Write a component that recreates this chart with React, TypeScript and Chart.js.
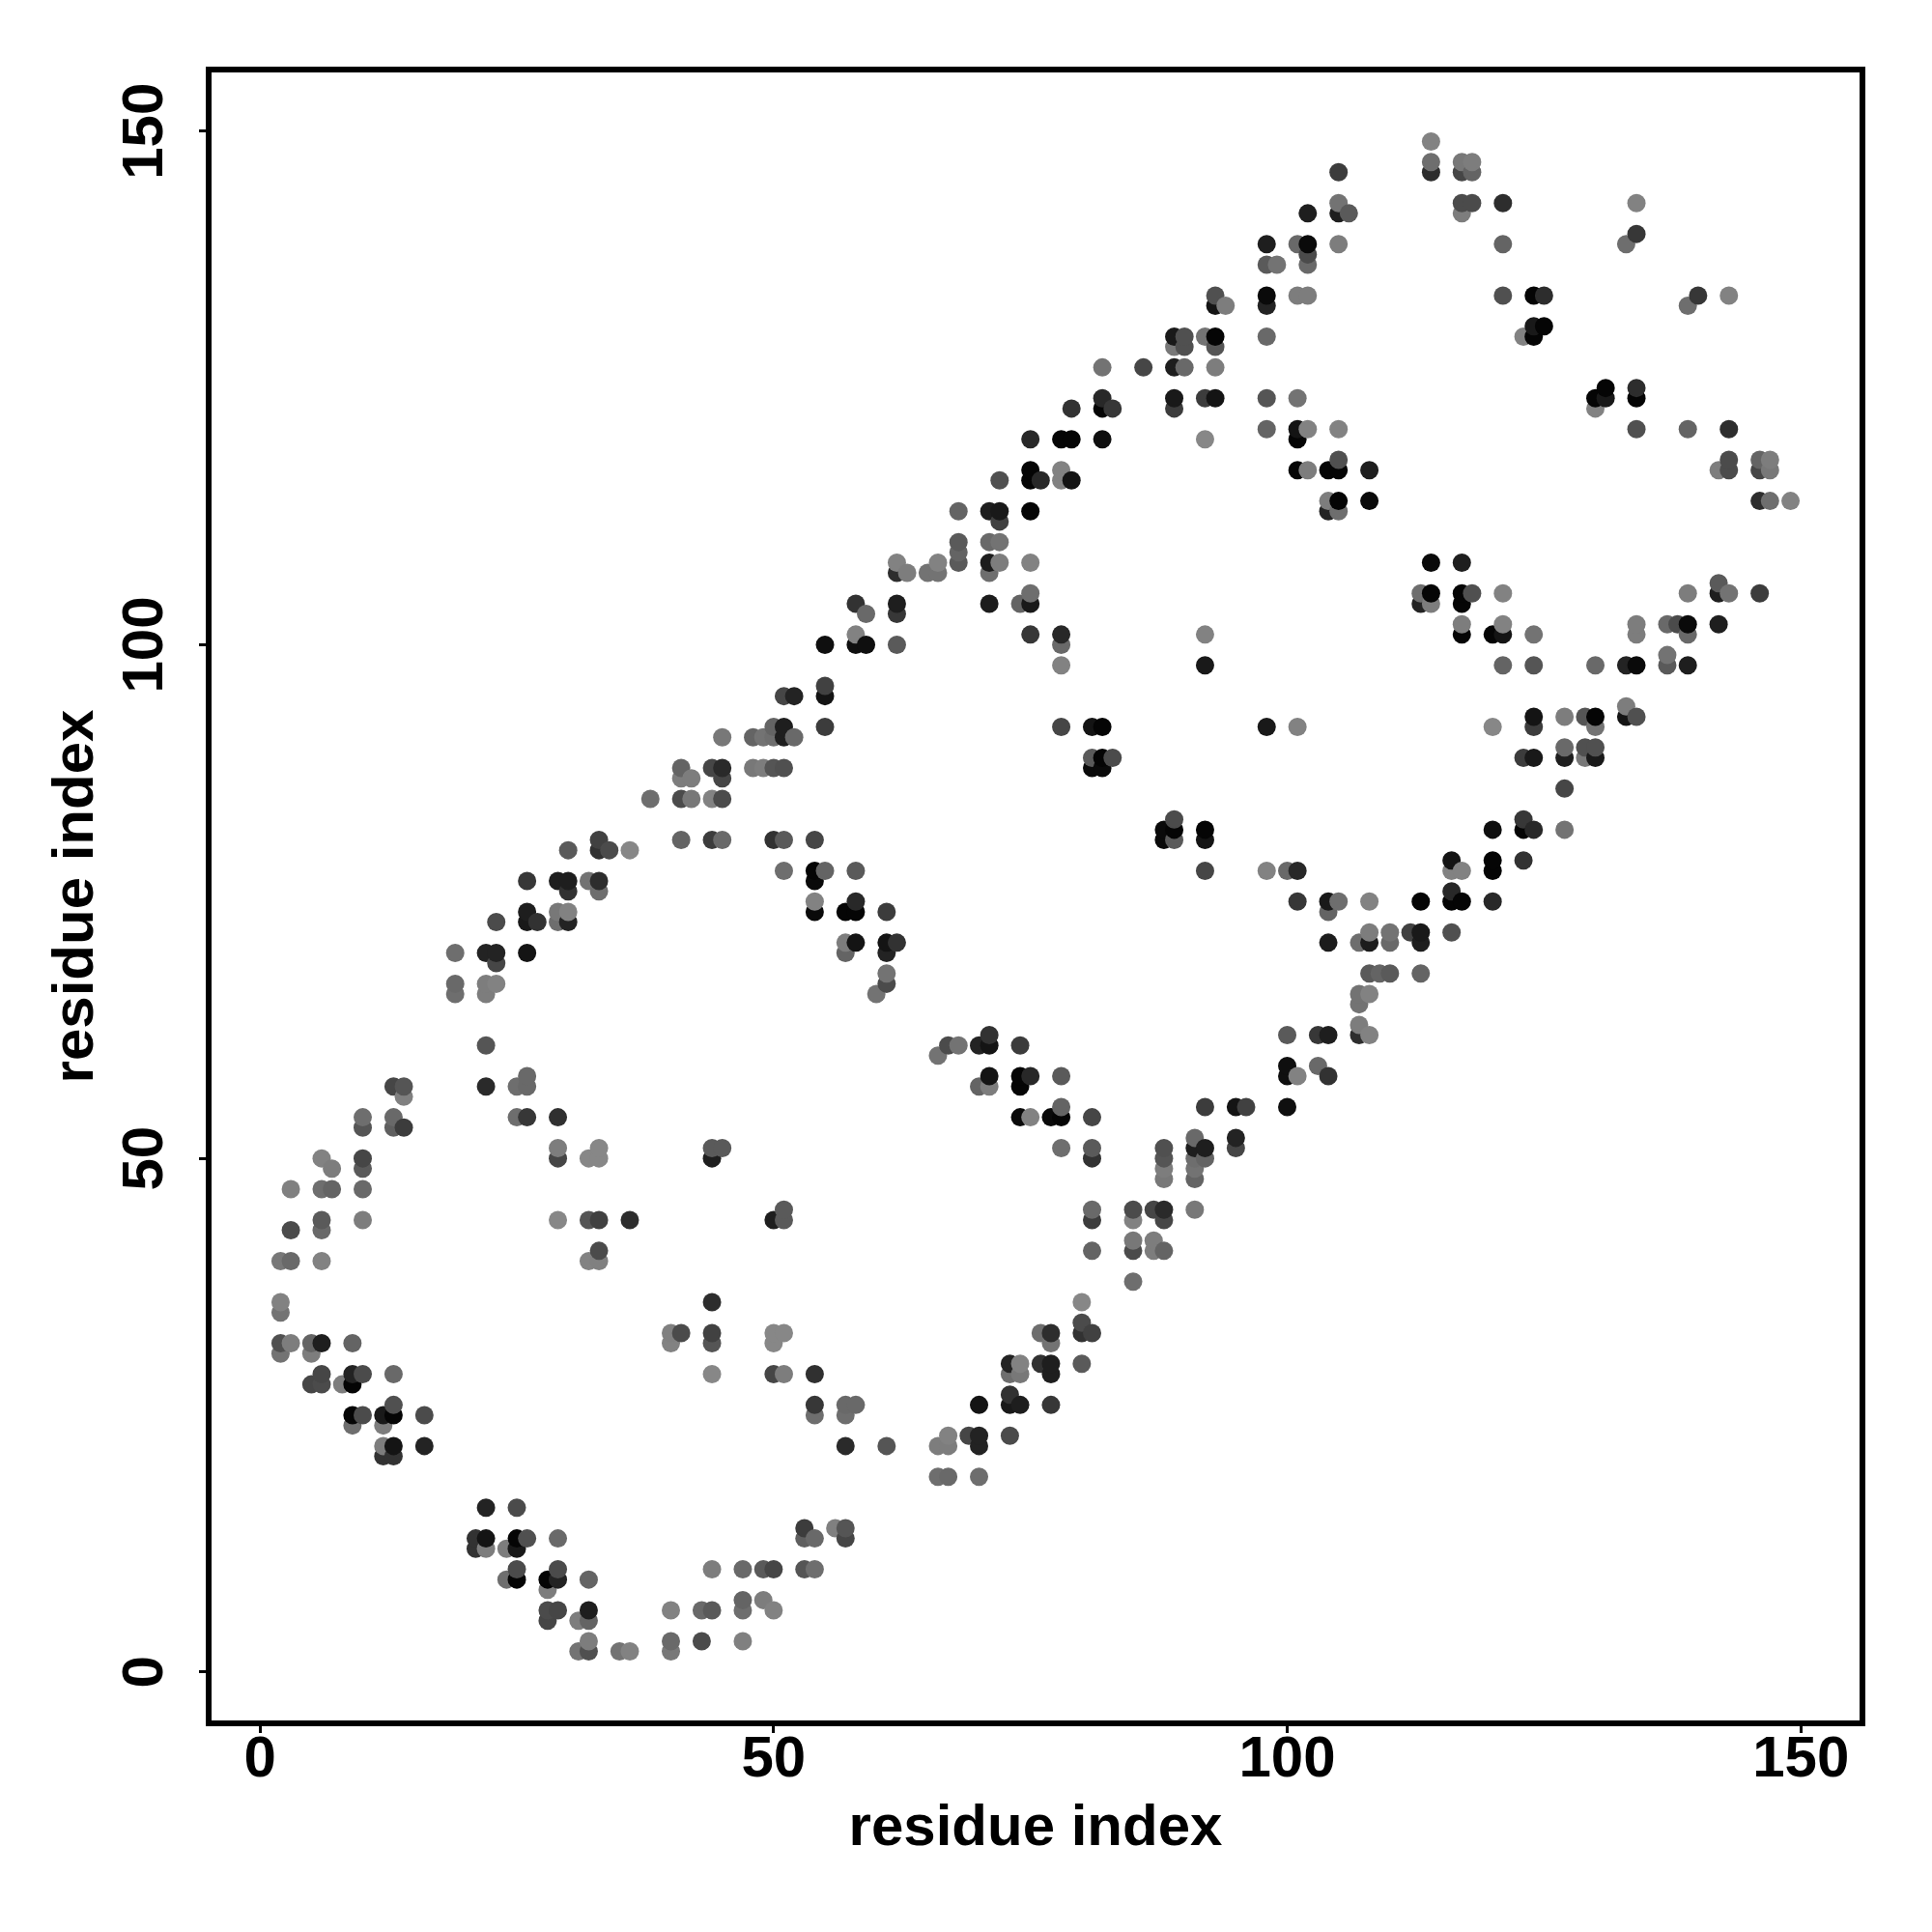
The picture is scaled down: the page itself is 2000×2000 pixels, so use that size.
import React, { useEffect, useRef } from "react";
import { Chart, registerables } from "chart.js";

Chart.register(...registerables);

const tickValues = [0, 50, 100, 150];
const axisLabel = "residue index";

// Contacts above the diagonal; the map is symmetric, the other half is its mirror image.
const residueI = [
  22, 13, 14, 14, 22, 25, 26, 26, 10, 10, 13, 13, 14, 25, 26, 29, 6, 7, 10, 10, 29, 29, 32, 33, 33,
  3, 6, 7, 10, 6, 6, 3, 10, 29, 32, 33, 36, 2, 3, 6, 32, 33, 33, 2, 2, 2, 3, 5, 6, 9, 2, 5,
  6, 5, 6, 8, 9, 9, 10, 13, 9, 10, 12, 13, 13, 16, 9, 12, 12, 13, 12, 13, 16,
  41, 41, 42, 44, 45, 45, 48, 49, 50, 51, 38, 41, 42, 44, 45, 41, 44, 45, 50, 51, 54,
  30, 33, 33, 34, 36, 51, 54, 54, 54, 54, 26, 29, 30, 30, 32, 33, 33,
  26, 26, 27, 29, 30, 29, 30, 23, 19, 22, 23, 23, 26, 19, 19, 22, 23, 22,
  58, 59, 62, 62, 71, 58, 58, 59, 55, 62, 55, 55, 51, 52, 55,
  45, 48, 49, 50, 51, 52, 50, 51, 62, 62, 63, 65, 66, 66, 68, 71, 72, 71,
  55, 58, 58, 57, 58, 61, 57, 58, 61, 62, 57, 61, 61, 61, 60,
  93, 93, 94, 98, 98, 101, 102, 89, 90, 89, 90, 92, 93, 93, 98,
  82, 86, 89, 90, 93, 82, 82, 83, 79, 89, 89, 92, 93, 98, 101,
  75, 78, 79, 82, 92, 98, 101, 102, 105, 101,
  75, 75, 76, 78, 78, 79, 72, 101, 102, 104, 105, 105, 104, 105, 104, 105,
  71, 72, 72, 75, 71, 72, 75, 74, 75, 75, 75, 78, 78, 78, 92, 92,
  78, 81, 82, 81, 82, 83, 81, 82, 44, 44, 45,
  114, 114, 114, 117, 118, 117, 118, 105, 105, 105, 106, 102, 117, 118, 117, 121,
  98, 101, 102, 102, 102, 98, 99, 105, 121, 121, 124, 125, 123, 124, 125, 124,
  134, 134, 133, 108, 108, 68, 68, 68,
];
const residueJ = [
  61, 57, 57, 56, 57, 57, 57, 58, 54, 53, 54, 53, 53, 54, 54, 54, 50, 49, 50, 49, 51, 50, 50, 51, 50,
  47, 47, 47, 47, 44, 43, 43, 44, 44, 44, 44, 44, 40, 40, 40, 40, 40, 41, 36, 35, 32, 32, 32, 32, 32, 31, 31,
  29, 28, 28, 28, 28, 29, 29, 29, 25, 25, 25, 25, 26, 25, 24, 24, 22, 22, 21, 21, 22,
  88, 87, 87, 88, 88, 87, 88, 88, 88, 88, 85, 85, 85, 85, 85, 81, 81, 81, 81, 81, 81,
  80, 81, 80, 80, 80, 78, 78, 77, 75, 74, 77, 77, 77, 76, 77, 77, 76,
  74, 73, 73, 74, 74, 73, 73, 73, 70, 70, 70, 69, 70, 67, 66, 67, 67, 66,
  104, 103, 104, 103, 104, 101, 100, 100, 100, 100, 96, 95, 95, 95, 92,
  91, 91, 91, 91, 91, 91, 92, 92, 108, 107, 107, 107, 107, 108, 108, 108, 108, 107,
  78, 78, 75, 74, 74, 74, 71, 71, 71, 71, 70, 70, 68, 67, 66,
  134, 133, 133, 134, 133, 134, 134, 130, 130, 129, 129, 130, 130, 129, 130,
  127, 127, 127, 127, 127, 124, 123, 123, 123, 124, 123, 124, 124, 124, 124,
  120, 120, 120, 120, 120, 121, 121, 121, 121, 120,
  117, 116, 116, 117, 116, 116, 116, 117, 117, 117, 117, 118, 114, 114, 113, 113,
  113, 113, 112, 113, 110, 110, 108, 104, 104, 105, 101, 101, 100, 98, 101, 98,
  92, 92, 92, 89, 89, 89, 88, 88, 50, 51, 51,
  149, 147, 146, 147, 147, 146, 146, 146, 143, 142, 142, 142, 143, 143, 142, 143,
  139, 139, 139, 138, 137, 137, 137, 139, 139, 134, 134, 134, 130, 131, 131, 130,
  143, 140, 139, 117, 114, 113, 110, 109,
];
const grayLevel = [
  85, 70, 85, 128, 42, 110, 105, 105, 110, 85, 105, 95, 60, 110, 55, 48, 130, 125, 70, 90, 125, 70, 135, 135, 135,
  128, 110, 100, 105, 90, 105, 75, 125, 135, 85, 65, 45, 120, 105, 130, 130, 128, 75, 130, 115, 80, 125, 100, 30, 100, 115, 125,
  70, 70, 75, 125, 5, 35, 75, 105, 5, 75, 25, 5, 80, 75, 110, 125, 125, 20, 50, 50, 35,
  100, 125, 125, 70, 42, 70, 120, 125, 85, 80, 110, 75, 120, 130, 75, 100, 60, 105, 50, 90, 70,
  90, 65, 50, 75, 135, 110, 5, 10, 130, 10, 55, 30, 30, 50, 115, 45, 110,
  30, 25, 50, 120, 130, 110, 35, 75, 110, 35, 35, 70, 20, 105, 110, 125, 130, 125,
  50, 105, 30, 55, 28, 130, 15, 15, 15, 90, 65, 20, 70, 35, 60,
  120, 100, 115, 110, 30, 105, 100, 30, 130, 45, 125, 115, 115, 130, 90, 28, 125, 110,
  100, 90, 40, 5, 5, 60, 125, 20, 20, 50, 100, 35, 115, 75, 115,
  80, 20, 125, 10, 35, 125, 125, 25, 80, 120, 80, 115, 5, 85, 105,
  115, 70, 30, 105, 125, 40, 5, 55, 50, 25, 60, 60, 20, 85, 115,
  40, 5, 5, 15, 135, 100, 20, 130, 130, 5,
  5, 5, 40, 130, 130, 20, 80, 5, 125, 5, 5, 80, 125, 5, 35, 110,
  30, 25, 65, 5, 105, 115, 130, 100, 25, 110, 55, 40, 105, 130, 130, 25,
  70, 20, 5, 90, 5, 75, 10, 10, 30, 90, 90,
  130, 110, 45, 120, 125, 70, 100, 60, 115, 30, 90, 30, 75, 75, 125, 45,
  30, 105, 10, 75, 105, 90, 115, 125, 100, 80, 5, 45, 130, 25, 5, 5,
  130, 55, 110, 30, 10, 100, 90, 100,
];

const pointRows = residueI
  .flatMap((a, k) => [
    { x: a, y: residueJ[k], g: grayLevel[k] },
    { x: residueJ[k], y: a, g: grayLevel[k] },
  ])
  .sort((p, q) => p.x - q.x || p.y - q.y);

const font = { family: "'Liberation Sans', Arial, sans-serif", weight: "bold" as const, size: 60 };

const framePlugin = {
  id: "frame",
  afterDatasetsDraw(chart: any) {
    const { ctx, chartArea: a } = chart;
    ctx.save();
    ctx.strokeStyle = "#000";
    ctx.lineWidth = 6;
    ctx.strokeRect(a.left, a.top, a.right - a.left, a.bottom - a.top);
    ctx.restore();
  },
};

const setTicks = (scale: any) => {
  scale.ticks = tickValues.map((value) => ({ value }));
};

export default function App() {
  const ref = useRef<HTMLCanvasElement>(null);
  useEffect(() => {
    const chart = new Chart(ref.current!, {
      type: "scatter",
      data: {
        datasets: [
          {
            data: pointRows.map((p) => ({ x: p.x, y: p.y })),
            pointBackgroundColor: pointRows.map((p) => `rgb(${p.g},${p.g},${p.g})`),
            pointBorderWidth: 0,
            pointRadius: 9.5,
            pointHoverRadius: 9.5,
            clip: false,
          },
        ],
      },
      plugins: [framePlugin],
      options: {
        responsive: false,
        animation: false,
        events: [],
        layout: { padding: { left: 0, top: 72, right: 72, bottom: 0 } },
        plugins: { legend: { display: false }, tooltip: { enabled: false }, title: { display: false } },
        scales: {
          x: {
            type: "linear",
            min: -5,
            max: 156,
            afterBuildTicks: setTicks,
            afterFit: (s: any) => {
              s.height = 216;
            },
            border: { display: false },
            grid: { drawOnChartArea: false, drawTicks: true, tickLength: 10, tickWidth: 3, tickColor: "#000" },
            ticks: { color: "#000", font, padding: -8, maxRotation: 0, minRotation: 0, autoSkip: false },
            title: {
              display: true,
              text: axisLabel,
              color: "#000",
              font,
              padding: { top: 0, bottom: 71 },
            },
          },
          y: {
            type: "linear",
            min: -5,
            max: 156,
            afterBuildTicks: setTicks,
            afterFit: (s: any) => {
              s.width = 216;
            },
            border: { display: false },
            grid: { drawOnChartArea: false, drawTicks: true, tickLength: 10, tickWidth: 3, tickColor: "#000" },
            ticks: { color: "#000", font, padding: 4, minRotation: 90, maxRotation: 90, crossAlign: "center", autoSkip: false },
            title: {
              display: true,
              text: axisLabel,
              color: "#000",
              font,
              padding: { top: 43, bottom: 43 },
            },
          },
        },
      },
    } as any);
    return () => chart.destroy();
  }, []);
  return (
    <canvas
      ref={ref}
      width={2000}
      height={2000}
      style={{ position: "absolute", left: 0, top: 0, width: 2000, height: 2000 }}
    />
  );
}
